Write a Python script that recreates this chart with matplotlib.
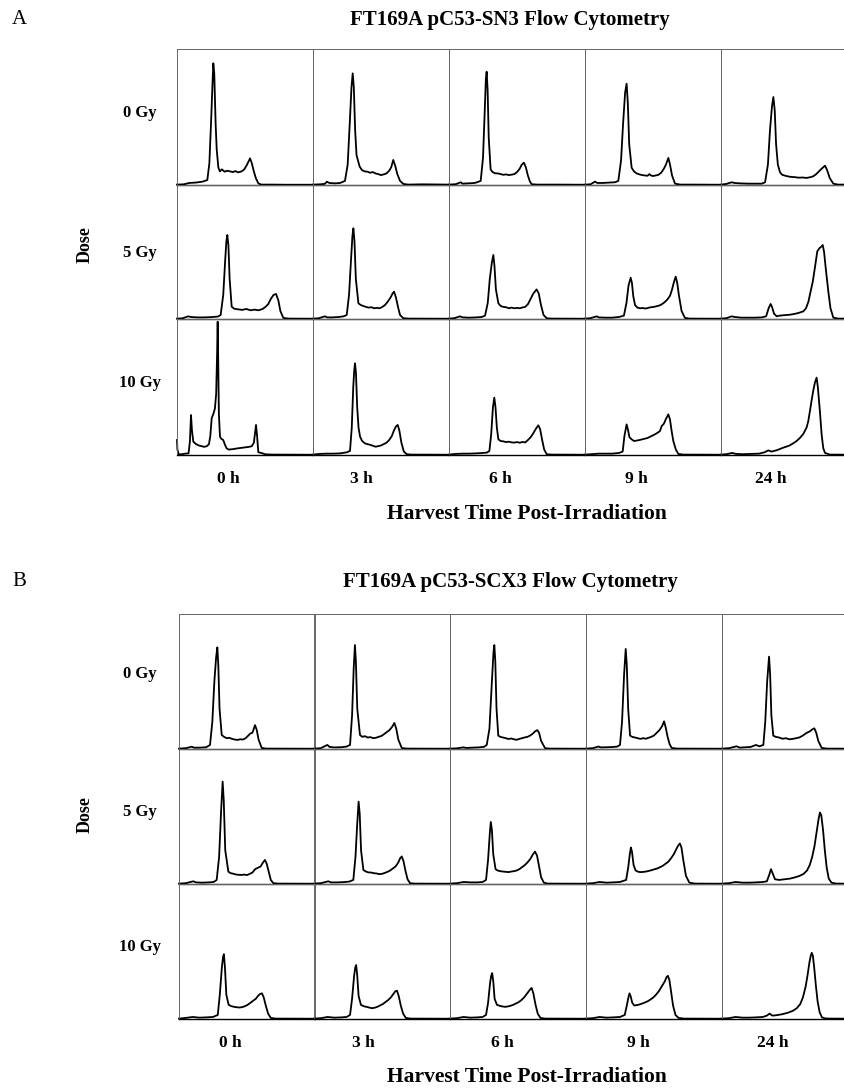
import matplotlib
matplotlib.use("Agg")
import matplotlib.pyplot as plt

# Flow cytometry histograms.
# x = channel position in % of the panel width, y = counts in % of the panel height
doses = ['0 Gy', '5 Gy', '10 Gy']
times = ['0 h', '3 h', '6 h', '9 h', '24 h']
title_a = 'FT169A pC53-SN3 Flow Cytometry'
title_b = 'FT169A pC53-SCX3 Flow Cytometry'

# ---- panel A (pC53-SN3) ----
a_0gy_0h = ([0, 5, 9, 14, 19, 22.3, 23.8, 25.0, 26.2, 26.7, 27.4, 28.4, 29.2, 30.4, 31.5, 33, 35, 37, 39, 41, 43, 45, 47.5, 49.5, 51.5, 53.7, 55, 56.5, 58, 59.8, 62, 70, 80, 100],
            [0.3, 0.5, 1.5, 1.8, 2.5, 3.7, 16, 45, 77, 89.5, 82, 45, 26, 13, 10, 11.5, 9.8, 10.5, 10, 9.5, 10.2, 9.3, 10, 11.5, 15, 19.6, 16, 10, 5, 1.2, 0.3, 0.3, 0.2, 0.2])
a_0gy_3h = ([0, 5, 8.5, 10.3, 12, 16, 20, 23.5, 25.5, 27, 28.3, 29.2, 30, 31, 32, 34.3, 36, 38, 40, 42, 44, 46, 48, 50, 52, 54, 56, 57.5, 59, 60.5, 62, 64, 66.4, 70, 80, 100],
            [0.3, 0.5, 0.8, 2.4, 1.5, 1.2, 1.5, 3, 15, 45, 72, 82.1, 72, 40, 22, 13.5, 11, 10, 9.8, 9, 9.5, 8.5, 8, 7.3, 7.8, 8.5, 10.5, 13, 18.4, 14, 8, 3, 0.8, 0.3, 0.5, 0.3])
a_0gy_6h = ([0, 5, 8.6, 10, 14, 19, 23.3, 25, 26.3, 27.1, 27.7, 28.4, 29.2, 30.6, 32, 34, 36, 38, 40, 42, 44, 46, 48, 50, 52, 53.5, 55.1, 56.5, 58, 59.5, 60.8, 65, 80, 100],
            [0.3, 0.6, 2, 1, 1.2, 1.5, 3, 20, 55, 78, 83.3, 70, 35, 11.5, 9.5, 8.6, 8.5, 8, 7.5, 7.8, 7.3, 7.6, 8, 9.5, 12, 15, 16.4, 13, 7, 2.5, 0.6, 0.3, 0.3, 0.2])
a_0gy_9h = ([0, 4, 7.4, 9, 13, 18, 22, 24.5, 26.5, 28, 29.5, 30.6, 31.5, 32.5, 34.3, 36, 38, 40, 42, 44, 46, 47.3, 48.5, 50, 52, 54, 56, 58, 59.5, 61.3, 62.5, 64, 66.2, 70, 80, 100],
            [0.3, 0.5, 2.5, 1.5, 1.5, 1.8, 2, 3, 18, 45, 68, 74.5, 60, 30, 12.7, 10, 8.5, 7.8, 7.3, 7, 6.8, 8, 7, 6.6, 7, 7.5, 9, 12, 15, 19.9, 15, 7, 1, 0.3, 0.3, 0.2])
a_0gy_24h = ([0, 4, 7.8, 10, 14, 20, 26, 30, 32.4, 34.5, 36, 37.5, 38.5, 39.5, 40.5, 41.8, 43.4, 45, 48, 51, 54, 57, 60, 63, 66, 68, 70, 72, 74, 76.5, 78, 80, 82.6, 86, 100],
             [0.3, 0.8, 2, 1.5, 1.2, 1, 1, 1, 2, 15, 40, 58, 64.7, 55, 30, 15, 9.3, 7.5, 6.6, 6, 5.8, 5.4, 5.5, 5.2, 5.8, 6.5, 8, 10, 12, 14.2, 11, 5, 1, 0.3, 0.3])

a_5gy_0h = ([0, 4, 8.3, 10, 15, 20, 25, 30, 32.1, 34, 35.5, 36.3, 37, 37.8, 38.7, 40.2, 42, 45, 48, 51, 54, 57, 60, 63, 65, 67, 69, 71, 72.8, 74.5, 76, 78.2, 82, 100],
            [0.3, 0.5, 2, 1.5, 1.2, 1.2, 1.4, 1.8, 3, 18, 45, 58, 62.7, 55, 30, 9.2, 7.7, 7.2, 6.8, 7.5, 6.5, 7, 6.5, 7.5, 9, 11, 15, 18, 18.7, 14, 6, 0.8, 0.3, 0.2])
a_5gy_3h = ([0, 4, 8.8, 10.5, 14, 19, 22.5, 24.8, 26.5, 28, 29, 29.7, 30.5, 31.5, 33.4, 35, 37, 39, 41, 43, 45, 47, 49, 51, 53, 55, 57, 58.5, 59.6, 61, 62.5, 64, 66.4, 70, 100],
            [0.3, 0.5, 2, 1.2, 1.2, 1.5, 2, 3, 18, 45, 62, 67.7, 58, 30, 11.7, 10.5, 9.7, 9, 8.5, 8.8, 8, 8.3, 8, 9, 10.5, 13, 16, 19, 20.4, 16, 9, 3, 0.6, 0.3, 0.2])
a_5gy_6h = ([0, 4, 8, 10, 15, 20, 24, 26.5, 28.5, 30, 31.5, 32.6, 33.4, 34.5, 36.3, 38, 40, 42, 44, 46, 48, 50, 52, 54, 56, 58, 60, 62, 64.4, 66, 67.5, 69.5, 71.8, 75, 100],
            [0.3, 0.6, 2, 1.2, 1, 1.2, 1.5, 2.5, 12, 30, 42, 47.8, 40, 22, 11.7, 9.7, 9, 8.8, 8, 8.5, 8, 8.3, 8, 8.6, 9, 11, 15, 19, 22.1, 19, 11, 3, 0.6, 0.3, 0.2])
a_5gy_9h = ([0, 4, 8.6, 10, 15, 20, 25, 28.6, 30.5, 32, 33.6, 34.5, 35.5, 36.8, 38.5, 40.5, 42.5, 44.5, 46.5, 48.5, 50.5, 52.5, 54.5, 56.5, 58.5, 60.5, 62.5, 64, 65.5, 66.7, 67.8, 69, 71, 73.5, 77, 100],
            [0.3, 0.6, 2, 1.2, 1, 1, 1.5, 2.5, 12, 25, 30.8, 27, 17, 10.4, 8.5, 8, 8.2, 7.8, 8.3, 8.8, 9, 9.5, 10, 11, 12.5, 14.5, 17.3, 22, 28, 31.6, 27, 18, 6, 0.8, 0.3, 0.2])
a_5gy_24h = ([0, 4, 7.8, 10, 15, 20, 25, 30, 33.2, 35, 36.5, 37.5, 39, 40.9, 43, 46, 50.7, 54, 57, 60.5, 62.5, 64.3, 65.9, 67.5, 69, 70.8, 72.5, 73.8, 74.8, 75.8, 77, 78.9, 80.5, 82.6, 86, 100],
             [0.3, 0.6, 2, 1.5, 1, 1, 1, 1.2, 2, 8, 11.2, 9, 4, 2, 2.5, 2.8, 3.2, 3.8, 4.5, 5.7, 8, 13, 20.6, 28, 38, 50.5, 53, 54, 55.2, 50, 38, 20.6, 8, 1, 0.3, 0.2])

a_10gy_0h = ([0, 0.3, 1.2, 3, 6, 8.5, 9.5, 10.3, 11, 12, 14, 16, 18, 20, 22, 23.5, 24.5, 25.5, 27, 27.9, 28.8, 29.5, 29.9, 30.3, 30.8, 31.6, 32.5, 34, 35.5, 36.5, 38, 41, 44, 47, 50, 53, 55, 56.5, 57.5, 58.1, 58.8, 59.8, 62, 65, 70, 100],
             [11, 4, 0.5, 0.5, 1, 1.2, 10, 29.4, 18, 9.8, 8, 7, 6.5, 6, 6.5, 8, 14, 27, 31, 34.3, 45, 75, 98, 70, 30, 13.5, 12, 11, 7, 4.9, 4, 4.3, 4.8, 5.2, 5.6, 6, 6.5, 9, 17, 22.1, 15, 2, 1.5, 0.5, 0.3, 0.2])
a_10gy_3h = ([0, 5, 10, 15, 20, 25, 27.2, 28.5, 29.6, 30.3, 30.9, 31.6, 32.5, 33.5, 34.6, 36, 38, 40, 42, 44, 46, 48, 50, 52, 54, 56, 58, 59.5, 61, 62.3, 63.5, 65, 66.8, 68.9, 72, 100],
             [0.3, 0.8, 1, 1, 1.2, 2, 3, 20, 50, 62, 67.4, 60, 35, 20, 13.5, 10.5, 8.6, 8, 7.5, 6.8, 6.1, 6.5, 7, 8, 9, 11, 14, 18, 21, 22.1, 18, 9, 2.5, 0.6, 0.3, 0.2])
a_10gy_6h = ([0, 5, 10, 15, 20, 25, 28, 29.7, 31, 32.3, 33.3, 34.2, 35.2, 36.3, 38, 40, 42, 44, 46, 48, 50, 52, 54, 56, 58, 60, 62, 64, 65.7, 67, 68.5, 70, 71.8, 75, 100],
             [0.3, 0.8, 1, 1, 1.2, 1.5, 1.8, 3, 15, 35, 42.2, 35, 20, 11.5, 10.3, 10, 9.5, 9.8, 9.3, 9.1, 9.5, 9, 9.6, 9.2, 11, 13, 16, 19.5, 21.8, 19, 11, 4, 0.6, 0.3, 0.2])
a_10gy_9h = ([0, 5, 10, 15, 20, 25, 27.7, 29, 30.6, 31.5, 32.7, 34.3, 36, 38, 40, 42, 44, 46, 48, 50, 52, 54, 55.1, 56.4, 58, 59.5, 61.3, 62.5, 63.8, 65, 66.8, 68.6, 72, 100],
             [0.3, 0.6, 1, 1, 1, 1.5, 2.5, 14, 22.5, 19, 13, 11.5, 10.3, 10.6, 11, 11.5, 12, 12.5, 13.5, 14.5, 15.5, 16.8, 17.6, 21.3, 23, 26.5, 29.9, 26, 17, 10, 4, 0.8, 0.3, 0.2])
a_10gy_24h = ([0, 4, 8.3, 11, 16, 22, 28, 32, 34.8, 37, 41, 45.8, 50, 53, 55.6, 58, 60.5, 62.9, 64.2, 65.4, 66.6, 67.8, 69, 70.3, 71.2, 72.7, 74, 75.2, 76.5, 80, 100],
              [0.3, 0.6, 1.5, 0.8, 0.6, 0.8, 1, 2, 3.4, 2.5, 3.5, 5.4, 6.8, 8.5, 10.3, 12.5, 15.5, 20.1, 25, 32.4, 40, 47.1, 53, 56.9, 50, 32.4, 15, 5, 1.5, 0.3, 0.2])

# ---- panel B (pC53-SCX3) ----
b_0gy_0h = ([0, 5, 9.3, 11, 15, 20, 22.8, 24.5, 26, 27.3, 28.2, 28.9, 29.8, 31.4, 33, 35, 37, 39, 41, 43, 45, 47, 49, 51, 52.5, 54, 55.9, 57.2, 58.5, 60.8, 64, 100],
            [0.3, 0.6, 1.7, 1, 1, 1.3, 3, 20, 50, 68, 75.3, 62, 30, 10.4, 9.1, 8, 8.3, 7.5, 7, 6.7, 7.2, 7, 8, 10, 11.5, 12, 17.7, 14, 7, 0.8, 0.3, 0.2])
b_0gy_3h = ([0, 5, 9.8, 11.5, 15, 20, 24, 26.5, 28, 29.2, 30.1, 30.8, 31.8, 33.8, 35.5, 37.5, 39.5, 41.5, 43.5, 45.5, 47.5, 49.5, 51.5, 53.5, 55.5, 57.5, 59.1, 60.5, 62, 64.5, 68, 100],
            [0.3, 0.6, 3, 1.5, 1.2, 1.3, 1.8, 3, 25, 60, 77, 65, 30, 10.4, 9, 9.5, 8.5, 8.8, 8, 8.3, 9, 9.6, 11, 12.5, 14, 16.5, 19.3, 15, 7, 0.8, 0.3, 0.2])
b_0gy_6h = ([0, 5, 9.8, 12, 16, 21, 25, 27, 29, 30.8, 32, 32.6, 33.3, 34.2, 35.5, 37, 39, 41, 43, 45, 47, 49, 51, 53, 55, 57, 59, 61, 62.5, 64.2, 65.5, 67, 69.9, 73, 100],
            [0.3, 0.5, 1.2, 0.8, 1, 1.2, 1.6, 3, 15, 50, 72, 77, 65, 30, 9.9, 9, 8.5, 8, 7.4, 7.8, 7.2, 6.8, 7.5, 8, 8.6, 9, 10, 11.5, 13, 14, 12, 6, 0.6, 0.3, 0.2])
b_0gy_9h = ([0, 5, 9.1, 11, 15, 20, 23, 25, 26.5, 28, 29.2, 30, 31, 32.4, 34, 36, 38, 40, 42, 44, 46, 48, 50, 52, 54, 56, 57.4, 58.6, 60, 61.5, 63, 67, 100],
            [0.3, 0.6, 1.8, 1.2, 1.3, 1.5, 1.8, 3, 20, 55, 74.1, 62, 30, 9.9, 9, 8.5, 8, 7.5, 8, 7.6, 8.3, 9, 10, 12, 14, 17, 20.5, 16, 9, 3.5, 0.8, 0.3, 0.2])
b_0gy_24h = ([0, 5, 10.8, 13, 17, 21, 25, 27.5, 30.4, 31.8, 33.2, 34.6, 35.4, 36.3, 37.7, 39.5, 42, 44.5, 47, 49.5, 52, 54.5, 57, 59.5, 62.3, 64.5, 66.3, 67.9, 69.3, 70.8, 73.3, 77, 100],
             [0.3, 0.6, 2, 1, 1.3, 1.5, 3, 2, 3, 20, 50, 68.4, 55, 25, 9.9, 9, 8.5, 7.6, 8, 7.2, 7.5, 8, 8.6, 10, 12, 13, 14.5, 15.3, 12, 6, 0.8, 0.3, 0.2])

b_5gy_0h = ([0, 5, 10.5, 12.5, 17, 22, 25.5, 27.7, 29.5, 31, 32.1, 32.9, 34, 36.3, 38, 40, 42, 44, 46, 48, 50, 52, 54, 56, 58, 60, 61.8, 63.2, 64.5, 66, 67.5, 69.4, 73, 100],
            [0.3, 0.6, 2, 1.2, 1, 1.2, 1.5, 3, 20, 55, 75.8, 62, 25, 9.1, 8, 7.6, 7, 6.8, 6.7, 7, 6.6, 7.5, 8.5, 11, 12, 13, 16, 17.8, 15, 9, 3, 0.6, 0.3, 0.2])
b_5gy_3h = ([0, 5, 10.5, 12.5, 17, 22, 26, 28.9, 30.5, 31.8, 32.8, 33.6, 34.6, 36.3, 38, 40, 42, 44, 46, 48, 50, 52, 54, 56, 58, 60, 62, 63.3, 64.5, 65.8, 67.2, 68.8, 70.6, 74, 100],
            [0.3, 0.6, 2, 1.2, 1.2, 1.4, 1.8, 3, 20, 45, 61, 52, 25, 10.4, 9.3, 8.6, 8.5, 8, 7.8, 7.3, 7.5, 8.2, 9, 10, 11.5, 13, 16, 19, 20.4, 17, 10, 3.5, 0.6, 0.3, 0.2])
b_5gy_6h = ([0, 5, 10, 15, 20, 24, 26.5, 28, 29.3, 30, 30.8, 31.8, 33.5, 35, 37, 39, 41, 43, 45, 47, 49, 51, 53, 55, 57, 59, 61, 62.5, 64, 65.5, 67, 69, 72, 100],
            [0.3, 0.6, 1.5, 1.2, 1.2, 1.5, 3, 18, 38, 46, 40, 22, 11, 10, 9.5, 9.2, 9, 8.8, 9.2, 9.5, 10, 11, 12.5, 14, 16, 18.5, 22, 24, 21, 13, 5, 1, 0.3, 0.2])
b_5gy_9h = ([0, 5, 10, 15, 20, 25, 29.5, 31, 32.2, 33, 33.8, 35, 36.5, 38.5, 40.5, 42.5, 44.5, 46.5, 48.5, 50.5, 52.5, 54.5, 56.5, 58.5, 60.5, 62.5, 64.5, 66, 67.5, 69, 70.2, 71.5, 73.5, 76, 80, 100],
            [0.3, 0.6, 1.5, 1, 1.2, 1.5, 3, 12, 22, 27, 24, 14, 10, 9, 8.8, 9, 9.3, 9.8, 10.3, 11, 11.5, 12.5, 13.5, 15, 16.5, 19, 22, 25, 28, 30, 27, 18, 6, 1, 0.3, 0.2])
b_5gy_24h = ([0, 5, 10, 15, 20, 25, 30, 33, 34.8, 36, 37.2, 39, 42, 46, 50, 54, 57, 60, 62.5, 64.5, 66.3, 68, 69.5, 71, 72, 73, 74.3, 75.6, 77, 78.5, 80.5, 84, 100],
             [0.3, 0.6, 1.5, 1, 1, 1.2, 1.5, 2, 7, 11, 8, 3.5, 3, 3.5, 4, 5, 6, 7.5, 10, 14, 20, 28, 38, 48, 53, 51, 40, 25, 12, 4, 1, 0.3, 0.2])

b_10gy_0h = ([0, 5, 10, 15, 20, 25, 28.5, 30, 31.5, 32.4, 33, 33.8, 34.8, 36.5, 38.5, 40.5, 42.5, 44.5, 46.5, 48.5, 50.5, 52.5, 54.5, 56.5, 58, 59.5, 61, 62.3, 63.8, 65.5, 67.5, 71, 100],
             [0.3, 0.8, 1.5, 1, 1.2, 1.5, 3, 18, 38, 46, 48, 38, 18, 10.5, 9.5, 9, 8.7, 8.5, 8.8, 9.5, 10.5, 12, 13.5, 15, 17, 18.5, 19, 16, 10, 4, 0.8, 0.3, 0.2])
b_10gy_3h = ([0, 5, 10, 15, 20, 24, 26.5, 28, 29.5, 30.3, 31, 31.8, 32.8, 34.5, 36.5, 38.5, 40.5, 42.5, 44.5, 46.5, 48.5, 50.5, 52.5, 54.5, 56.5, 58.3, 59.8, 61, 62.3, 63.8, 65.5, 67.5, 71, 100],
             [0.3, 0.6, 1.5, 1, 1.2, 1.5, 3, 15, 32, 38, 40, 32, 17, 10.5, 9.5, 9, 8.5, 8, 8.3, 9, 10, 11, 12.5, 14, 16, 18.5, 20.5, 21, 17, 10, 4, 0.8, 0.3, 0.2])
b_10gy_6h = ([0, 5, 10, 15, 20, 24, 26.5, 28, 29.5, 30.3, 31, 31.8, 32.8, 34.5, 36.5, 38.5, 40.5, 42.5, 44.5, 46.5, 48.5, 50.5, 52.5, 54.5, 56, 57.5, 59, 60, 61.3, 62.8, 64.5, 66.5, 70, 100],
             [0.3, 0.6, 1.5, 1, 1.2, 1.5, 3, 12, 27, 32, 34, 28, 15, 10.5, 9.8, 9.3, 9, 9.3, 9.8, 10.5, 11.5, 12.5, 14, 16, 18, 20, 22, 23, 19, 11, 4, 0.8, 0.3, 0.2])
b_10gy_9h = ([0, 5, 10, 15, 20, 25, 28.5, 30, 31.2, 32, 32.8, 34, 35.5, 37.5, 39.5, 41.5, 43.5, 45.5, 47.5, 49.5, 51.5, 53.5, 55, 56.5, 58, 59.2, 60.2, 61.3, 62.6, 64, 65.8, 68, 72, 100],
             [0.3, 0.6, 1.5, 1, 1.2, 1.5, 3, 10, 16, 19, 17, 12, 10, 10.3, 10.8, 11.5, 12.3, 13.2, 14.5, 16, 18, 20.5, 23, 25.5, 28, 31, 32, 29, 20, 10, 3, 0.8, 0.3, 0.2])
b_10gy_24h = ([0, 5, 10, 15, 20, 25, 30, 33, 35, 37, 40, 44, 48, 52, 55, 57.5, 59.5, 61.5, 63, 64.3, 65.3, 66, 66.8, 67.8, 69, 70.3, 71.8, 73.5, 76, 80, 100],
              [0.3, 0.6, 1.5, 1, 1, 1.2, 1.5, 2.5, 4, 2.5, 2.8, 3.5, 4.5, 6, 8, 11, 16, 24, 33, 42, 47, 49, 47, 38, 25, 13, 5, 1.2, 0.4, 0.3, 0.2])

panel_a = [[a_0gy_0h, a_0gy_3h, a_0gy_6h, a_0gy_9h, a_0gy_24h],
           [a_5gy_0h, a_5gy_3h, a_5gy_6h, a_5gy_9h, a_5gy_24h],
           [a_10gy_0h, a_10gy_3h, a_10gy_6h, a_10gy_9h, a_10gy_24h]]
panel_b = [[b_0gy_0h, b_0gy_3h, b_0gy_6h, b_0gy_9h, b_0gy_24h],
           [b_5gy_0h, b_5gy_3h, b_5gy_6h, b_5gy_9h, b_5gy_24h],
           [b_10gy_0h, b_10gy_3h, b_10gy_6h, b_10gy_9h, b_10gy_24h]]

W, H = 845, 1091
SERIF = 'Liberation Serif'

fig = plt.figure(figsize=(W / 100, H / 100), dpi=100)
fig.patch.set_facecolor('white')


def draw_grid(cells, col_left, row_bottom, top, col_w):
    for r in range(3):
        cell_top = top if r == 0 else row_bottom[r - 1]
        h = row_bottom[r] - cell_top
        for c in range(5):
            ax = fig.add_axes([col_left[c] / W, 1 - row_bottom[r] / H, col_w / W, h / H])
            xs, ys = cells[r][c]
            ax.plot(xs, ys, color='black', lw=1.3, solid_joinstyle='round', clip_on=False)
            ax.set_xlim(0, 100)
            ax.set_ylim(0, 100)
            ax.set_xticks([])
            ax.set_yticks([])
            for side in ['left', 'right', 'top']:
                ax.spines[side].set_color('#666666')
                ax.spines[side].set_linewidth(0.7)
            ax.spines['bottom'].set_color('black')
            ax.spines['bottom'].set_linewidth(1.0)
            ax.patch.set_alpha(0)


def label_panel(letter, title, title_y, row_y, dose_y, col_x, time_y, xlabel_y):
    fig.text(19 / W, 1 - title_y / H, letter, family=SERIF, fontsize=15, ha='center', va='center')
    fig.text(510 / W, 1 - title_y / H, title, family=SERIF, fontsize=15, fontweight='bold',
             ha='center', va='center')
    for lab, y in zip(doses, row_y):
        fig.text(140 / W, 1 - y / H, lab, family=SERIF, fontsize=12, fontweight='bold',
                 ha='center', va='center')
    fig.text(85 / W, 1 - dose_y / H, 'Dose', family=SERIF, fontsize=13, fontweight='bold',
             rotation=90, ha='center', va='center')
    for lab, x in zip(times, col_x):
        fig.text(x / W, 1 - time_y / H, lab, family=SERIF, fontsize=12.5, fontweight='bold',
                 ha='center', va='center')
    fig.text(527 / W, 1 - xlabel_y / H, 'Harvest Time Post-Irradiation', family=SERIF,
             fontsize=15.5, fontweight='bold', ha='center', va='center')


draw_grid(panel_a, [177, 313, 449, 585, 721], [185, 319, 455], 49, 136)
draw_grid(panel_b, [179, 314, 450, 586, 722], [749, 884, 1019], 614, 136)

label_panel('A', title_a, 20, [113, 253, 383], 245, [228, 361, 500, 636, 771], 479, 514)
label_panel('B', title_b, 582, [674, 812, 947], 815, [230, 363, 502, 638, 773], 1043, 1077)

fig.savefig('out.png', dpi=100, facecolor='white')
